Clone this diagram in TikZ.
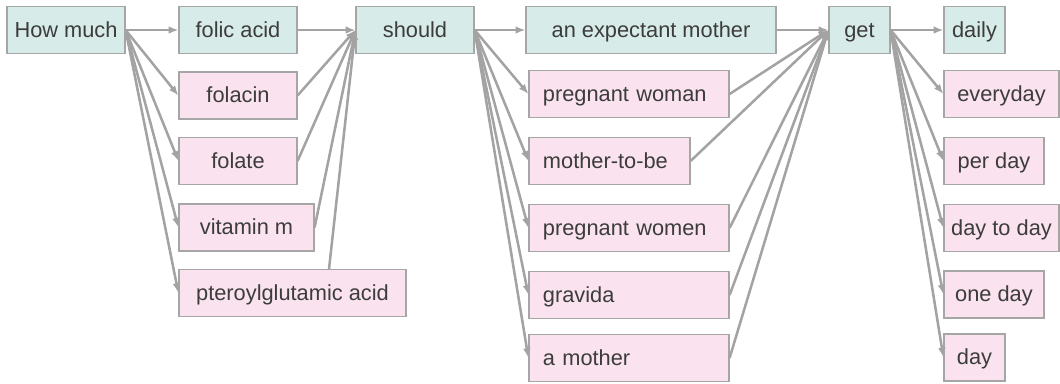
\documentclass[tikz,border=0pt]{standalone}
\usepackage{fontspec}
\setmainfont{Liberation Sans}
\usetikzlibrary{arrows.meta}
\definecolor{headfill}{HTML}{D7EBE8}
\definecolor{parafill}{HTML}{FAE3EE}
\definecolor{boxline}{HTML}{A6A6A6}
\definecolor{linkgray}{HTML}{A3A3A3}
\definecolor{textgray}{HTML}{3C3C3C}

\begin{document}
\begin{tikzpicture}[x=0.025cm, y=-0.025cm,
    box/.style={draw=boxline, line width=0.8pt, text=textgray, inner sep=0pt,
        minimum height=1.175cm, text height=13pt, text depth=3pt,
        font=\fontsize{15.5}{18}\selectfont},
    head/.style={box, fill=headfill},
    para/.style={box, fill=parafill},
    paral/.style={para, align=left, inner xsep=0.35cm},
    link/.style={linkgray, line width=1.8pt,
        every edge/.append style={-{Latex[length=7pt,width=5.5pt]}}}]
    \useasboundingbox (0,0) rectangle (1060,383);

    \node[head, minimum width=2.95cm] (howmuch) at (66,30) {How much};

    \node[head, minimum width=2.95cm] (folic) at (238,30) {folic acid};
    \node[para, minimum width=2.95cm] (folacin) at (238,95.5) {folacin};
    \node[para, minimum width=2.95cm] (folate) at (238,161) {folate};
    \node[para, minimum width=3.375cm] (vitm) at (246.5,227.5) {vitamin m};
    \node[para, minimum width=5.675cm] (ptero) at (292.5,293) {pteroylglutamic acid};

    \node[head, minimum width=2.95cm] (should) at (415,30) {should};

    \node[head, minimum width=6.25cm] (expmother) at (651,30) {an expectant mother};
    \node[paral, text width=4.3cm] (pwoman) at (629,94) {pregnant woman};
    \node[paral, text width=3.325cm] (mtobe) at (609.5,161) {mother-to-be};
    \node[paral, text width=4.3cm] (pwomen) at (629,228) {pregnant women};
    \node[paral, text width=4.3cm] (gravida) at (629,295) {gravida};
    \node[paral, text width=4.3cm] (amother) at (629,358) {a mother};

    \node[head, minimum width=1.525cm] (get) at (859.5,30) {get};

    \node[head, minimum width=1.525cm] (daily) at (974.5,30) {daily};
    \node[para, minimum width=2.875cm] (everyday) at (1001.5,94) {everyday};
    \node[para, minimum width=2.5cm] (perday) at (994,161) {per day};
    \node[para, minimum width=2.875cm] (daytoday) at (1001.5,228) {day to day};
    \node[para, minimum width=2.5cm] (oneday) at (994,294.5) {one day};
    \node[para, minimum width=1.525cm] (day) at (974.5,357.5) {day};

    \path[link] (howmuch.east) edge (folic.west)
                               edge (folacin.west)
                               edge (folate.west)
                               edge (vitm.west)
                               edge (ptero.west);
    \path[link] (folic.east) edge (should.west)
                (folacin.east) edge (should.west)
                (folate.east) edge (should.west)
                (vitm.east) edge (should.west)
                ([xshift=0.9125cm]ptero.north) edge (should.west);

    \path[link] (should.east) edge (expmother.west)
                              edge (pwoman.west)
                              edge (mtobe.west)
                              edge (pwomen.west)
                              edge (gravida.west)
                              edge (amother.west);
    \path[link] (expmother.east) edge (get.west)
                (pwoman.east) edge (get.west)
                (mtobe.east) edge (get.west)
                (pwomen.east) edge (get.west)
                (gravida.east) edge (get.west)
                (amother.east) edge (get.west);

    \path[link] (get.east) edge (daily.west)
                           edge (everyday.west)
                           edge (perday.west)
                           edge (daytoday.west)
                           edge (oneday.west)
                           edge (day.west);
\end{tikzpicture}
\end{document}
